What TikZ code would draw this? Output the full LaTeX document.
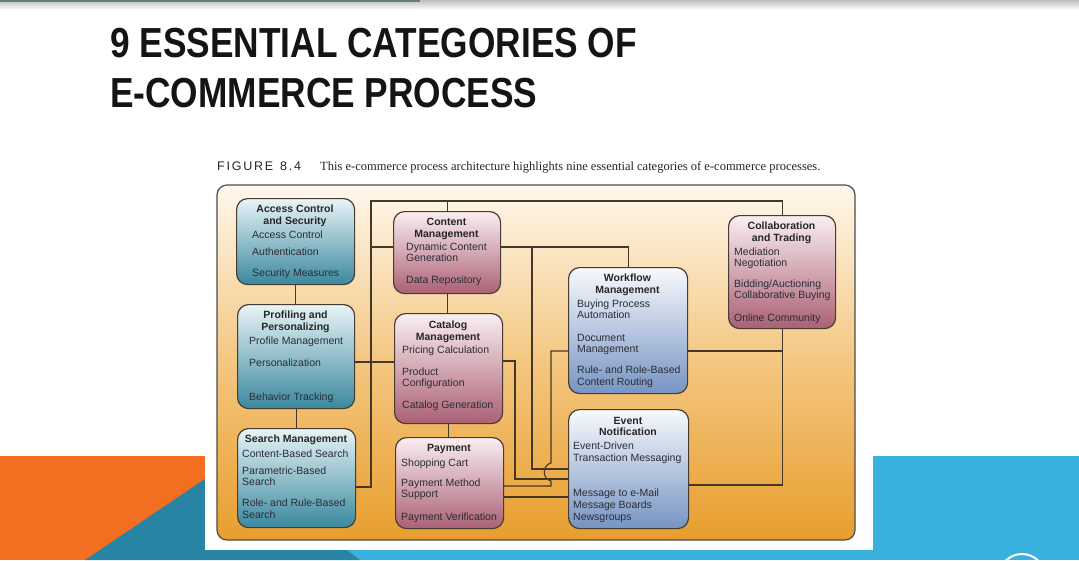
\documentclass[tikz,border=0pt]{standalone}
\usepackage{fontspec}
\setmainfont{Liberation Sans}
\newfontfamily\capserif{Liberation Serif}
\newfontfamily\capsans[LetterSpace=14]{Liberation Sans}
\usepackage{graphicx}
\pgfdeclarelayer{back}
\pgfdeclarelayer{wires}
\pgfsetlayers{back,wires,main}
\definecolor{wire}{RGB}{70,56,40}
\definecolor{edge}{RGB}{72,60,50}
\definecolor{txt}{RGB}{42,44,54}
\definecolor{tealtop}{RGB}{232,244,247}
\definecolor{tealbot}{RGB}{58,136,158}
\definecolor{rosetop}{RGB}{250,238,241}
\definecolor{rosebot}{RGB}{170,96,116}
\definecolor{skytop}{RGB}{248,250,253}
\definecolor{skybot}{RGB}{118,148,194}
\definecolor{pantop}{RGB}{254,248,236}
\definecolor{panmid}{RGB}{244,198,128}
\definecolor{panbot}{RGB}{232,158,46}
\definecolor{slorange}{RGB}{242,111,33}
\definecolor{slteal}{RGB}{40,132,164}
\definecolor{slblue}{RGB}{58,176,222}

\begin{document}
\begin{tikzpicture}
      [x=1pt,y=-1pt
      ,lin/.style={color=wire,line width=1.1pt}
      ,box/.style={draw=edge,line width=1.2pt,rounded corners=11pt,anchor=north west,inner sep=0pt}
      ,tealbox/.style={box,top color=tealtop,bottom color=tealbot}
      ,rosebox/.style={box,top color=rosetop,bottom color=rosebot}
      ,skybox/.style={box,top color=skytop,bottom color=skybot}
      ,hd/.style={font=\fontsize{10.5}{11.5}\selectfont\bfseries,align=center,anchor=north,inner sep=0pt,text=black!85}
      ,itm/.style={font=\fontsize{10.5}{11.5}\selectfont,anchor=base west,inner sep=0pt,text=txt}
      ,ttl/.style={font=\fontsize{42}{50}\selectfont\bfseries,anchor=base west,inner sep=0pt,text=black!92}
      ]
        \useasboundingbox (0,0) rectangle (1079,560);

        % slide title and caption
        \node[ttl] (ttl1) at (110,57) {\scalebox{0.84}[1]{9 ESSENTIAL CATEGORIES OF}};
        \node[ttl] (ttl2) at (110,107) {\scalebox{0.84}[1]{E-COMMERCE PROCESS}};
        \node[anchor=base west,inner sep=0pt,text=black!85,font=\capsans\fontsize{12.5}{14}\selectfont] (fig) at (217,170) {FIGURE\hspace{7pt}8.4};
        \node[anchor=base west,inner sep=0pt,text=black!85,font=\capserif\fontsize{12.5}{14}\selectfont] (cap) at (320,170)
            {This e-commerce process architecture highlights nine essential categories of e-commerce processes.};

        % boxes
        \node[tealbox,minimum width=118pt,minimum height=86pt] (acs) at (236,198) {};
        \node[hd] (acs-h) at (295,205) {Access Control\\and Security};
        \foreach \n/\y/\t in {1/238/Access Control,2/255/Authentication,3/276/Security Measures}
            \node[itm] (acs-\n) at (252,\y) {\t};

        \node[rosebox,minimum width=107pt,minimum height=82pt] (cnt) at (393,211) {};
        \node[hd] (cnt-h) at (446.5,218) {Content\\Management};
        \foreach \n/\y/\t in {1/250/Dynamic Content,2/261/Generation,3/283/Data Repository}
            \node[itm] (cnt-\n) at (406,\y) {\t};

        \node[rosebox,minimum width=107pt,minimum height=113pt] (col) at (728,215) {};
        \node[hd] (col-h) at (781.5,222) {Collaboration\\and Trading};
        \foreach \n/\y/\t in {1/255/Mediation,2/266/Negotiation,3/287/{Bidding/Auctioning},4/298/Collaborative Buying,5/321/Online Community}
            \node[itm] (col-\n) at (734,\y) {\t};

        \node[skybox,minimum width=119pt,minimum height=126pt] (wfl) at (568,267) {};
        \node[hd] (wfl-h) at (627.5,274) {Workflow\\Management};
        \foreach \n/\y/\t in {1/307/Buying Process,2/318/Automation,3/341/Document,4/352/Management,5/373/Rule- and Role-Based,6/385/Content Routing}
            \node[itm] (wfl-\n) at (577,\y) {\t};

        \node[tealbox,minimum width=117pt,minimum height=104pt] (prf) at (237,304) {};
        \node[hd] (prf-h) at (295.5,311) {Profiling and\\Personalizing};
        \foreach \n/\y/\t in {1/344/Profile Management,2/366/Personalization,3/400/Behavior Tracking}
            \node[itm] (prf-\n) at (249,\y) {\t};

        \node[rosebox,minimum width=108pt,minimum height=110pt] (cat) at (394,313) {};
        \node[hd] (cat-h) at (448,321) {Catalog\\Management};
        \foreach \n/\y/\t in {1/353/Pricing Calculation,2/375/Product,3/386/Configuration,4/408/Catalog Generation}
            \node[itm] (cat-\n) at (402,\y) {\t};

        \node[tealbox,minimum width=118pt,minimum height=99pt] (srch) at (237,428) {};
        \node[hd] (srch-h) at (296,435) {Search Management};
        \foreach \n/\y/\t in {1/457/Content-Based Search,2/474/Parametric-Based,3/485/Search,4/506/Role- and Rule-Based,5/518/Search}
            \node[itm] (srch-\n) at (242,\y) {\t};

        \node[rosebox,minimum width=108pt,minimum height=91pt] (pay) at (395,437) {};
        \node[hd] (pay-h) at (449,444) {Payment};
        \foreach \n/\y/\t in {1/466/Shopping Cart,2/486/Payment Method,3/497/Support,4/520/Payment Verification}
            \node[itm] (pay-\n) at (401,\y) {\t};

        \node[skybox,minimum width=120pt,minimum height=119pt] (evt) at (568,409) {};
        \node[hd] (evt-h) at (628,417) {Event\\Notification};
        \foreach \n/\y/\t in {1/449/Event-Driven,2/461/Transaction Messaging,3/496/Message to e-Mail,4/508/Message Boards,5/520/Newsgroups}
            \node[itm] (evt-\n) at (573,\y) {\t};

        % connectors
        \begin{pgfonlayer}{wires}
            \coordinate (tl) at (371,201);
            \coordinate (sb) at (371,487);
            \coordinate (pc) at (371,362);
            \coordinate (cw) at (371,247);
            \coordinate (cv) at (532,247);
            \coordinate (ce) at (532,469);
            \coordinate (kc) at (515,361);
            \coordinate (ke) at (515,479);
            \coordinate (ww) at (551,351);
            \coordinate (wp) at (551,486);
            \coordinate (pe) at (560,497);
            \coordinate (ve) at (781.5,485);

            \draw[lin] (acs.south) -- (acs.south |- prf.north);
            \draw[lin] (prf.south) -- (prf.south |- srch.north);
            \draw[lin] (cnt.south) -- (cnt.south |- cat.north);
            \draw[lin] (cat.south) -- (cat.south |- pay.north);
            \draw[lin] (srch.east |- sb) -- (sb) -- (tl) -- (tl -| col.north) -- (col.north);
            \draw[lin] (tl -| cnt.north) -- (cnt.north);
            \draw[lin] (prf.east |- pc) -- (cat.west |- pc);
            \draw[lin] (cw) -- (cw -| wfl.north) -- (wfl.north);
            \draw[lin] (cv) -- (ce) -- (evt.west |- ce);
            \draw[lin] (cat.east |- kc) -- (kc) -- (ke) -- (evt.west |- ke);
            \draw[lin] (wfl.west |- ww) -- (ww) -- (551,463) .. controls +(-9,2) and +(-9,-2) .. (551,481) -- (wp) -- (pay.east |- wp);
            \draw[lin] (pay.east |- pe) -- (evt.west |- pe);
            \draw[lin] (wfl.east |- ww) -- (ww -| col.south);
            \draw[lin] (col.south) -- (col.south |- ve) -- (evt.east |- ve);
        \end{pgfonlayer}

        % slide background and figure panel
        \begin{pgfonlayer}{back}
            \shade[top color=gray!50,bottom color=gray!10] (0,0) rectangle (1079,8);
            \fill[gray!75!teal] (0,0) rectangle (420,1.5);
            \fill[slorange] (0,456) rectangle (205,560);
            \fill[slblue] (205,456) rectangle (1079,560);
            \fill[slteal] (85,560) -- (230,462) -- (360,560) -- cycle;
            \draw[white,line width=2pt] (1022,577) circle (23);
            \fill[white] (205,120) rectangle (873,550);
            \draw[draw=black!70,line width=1.2pt,rounded corners=10pt,top color=pantop,bottom color=panbot,middle color=panmid] (217,185) rectangle (855,540);
        \end{pgfonlayer}
      \end{tikzpicture}
\end{document}
